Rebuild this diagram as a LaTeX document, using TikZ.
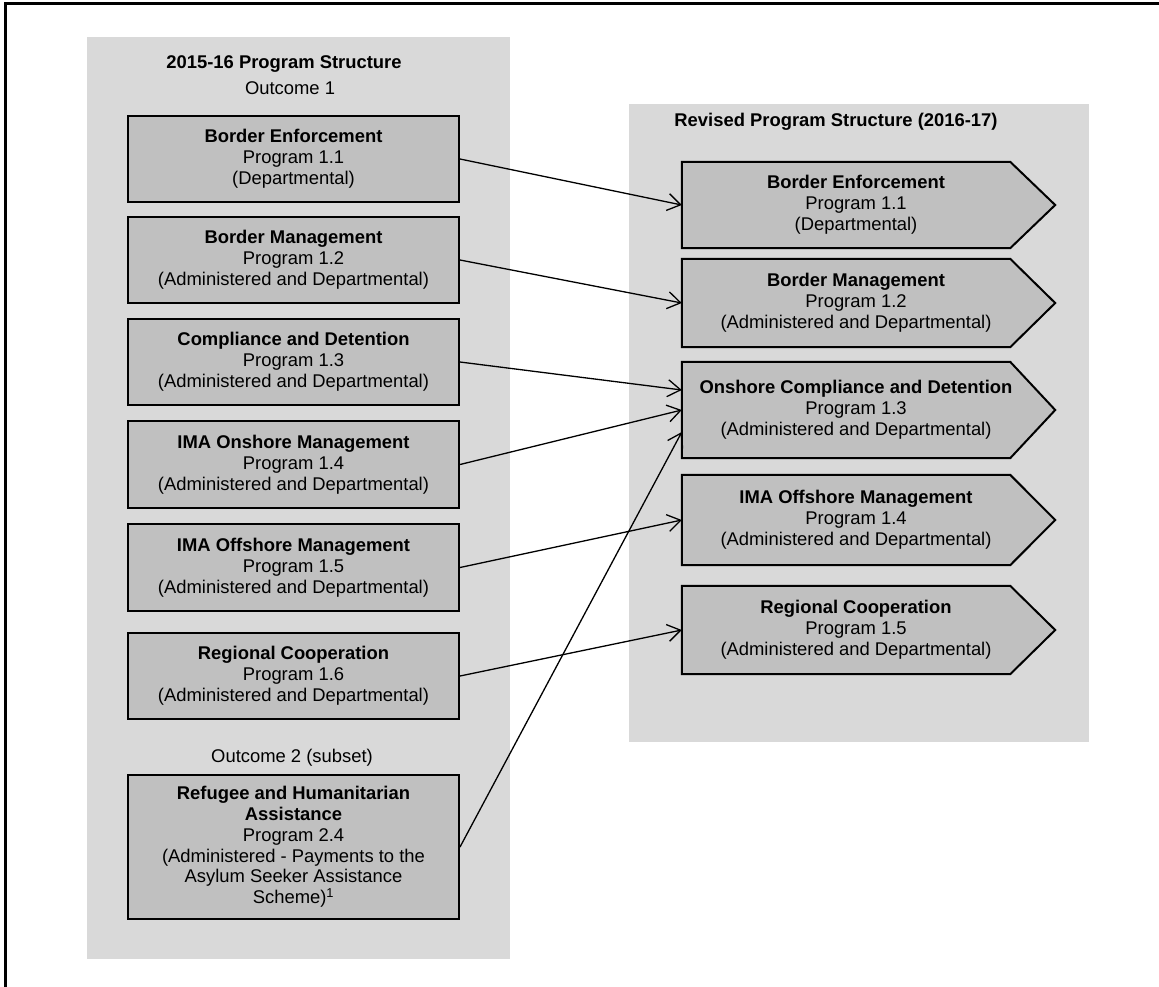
\documentclass[tikz,border=0pt]{standalone}
\usepackage{fontspec}
\setmainfont{Liberation Sans}
\usetikzlibrary{arrows.meta,backgrounds}

\definecolor{panelgrey}{HTML}{D9D9D9}
\definecolor{boxgrey}{HTML}{C0C0C0}

\tikzset{
  panel/.style={fill=panelgrey,draw=none},
  lbox/.style={draw,line width=2pt,fill=boxgrey,minimum width=331pt,align=center,inner sep=0pt},
  rbox/.style={minimum width=348pt,align=center,inner sep=0pt},
  rshape/.style={draw,line width=2pt,fill=boxgrey},
  arr/.style={line width=1.3pt,-{Straight Barb[length=13pt,width=17pt]}},
}

\begin{document}
\begin{tikzpicture}[x=1pt,y=-1pt,
    every node/.style={font=\fontsize{18.4}{20.8}\selectfont}]
  \useasboundingbox (0,0) rectangle (1159,986);
  % frame, top and left side only
  \draw[line width=3.5pt] (5.6,990) -- (5.6,3.7) -- (1165,3.7);

  \begin{scope}[on background layer]
    \fill[panel] (87,37) rectangle (510,959);
    \fill[panel] (629,104) rectangle (1089,742);
  \end{scope}

  % 2015-16 structure
  \node (old) at (284,64) {\textbf{2015-16 Program Structure}};
  \node (out1) at (290,88) {Outcome 1};
  \node[lbox,minimum height=86pt] (L1) at (293.5,159) {\textbf{Border Enforcement}\\Program 1.1\\(Departmental)};
  \node[lbox,minimum height=86pt] (L2) at (293.5,260) {\textbf{Border Management}\\Program 1.2\\(Administered and Departmental)};
  \node[lbox,minimum height=86pt] (L3) at (293.5,362) {\textbf{Compliance and Detention}\\Program 1.3\\(Administered and Departmental)};
  \node[lbox,minimum height=87pt] (L4) at (293.5,464.5) {\textbf{IMA Onshore Management}\\Program 1.4\\(Administered and Departmental)};
  \node[lbox,minimum height=87pt] (L5) at (293.5,567.5) {\textbf{IMA Offshore Management}\\Program 1.5\\(Administered and Departmental)};
  \node[lbox,minimum height=86pt] (L6) at (293.5,676) {\textbf{Regional Cooperation}\\Program 1.6\\(Administered and Departmental)};
  \node (out2) at (292,758) {Outcome 2 (subset)};
  \node[lbox,minimum height=144pt] (L7) at (293.5,847) {\textbf{Refugee and Humanitarian}\\\textbf{Assistance}\\Program 2.4\\(Administered - Payments to the\\Asylum Seeker Assistance\\Scheme)\textsuperscript{1}};

  % revised structure
  \node (new) at (836,122) {\textbf{Revised Program Structure (2016-17)}};
  \node[rbox,minimum height=86pt] (R1) at (856,205) {\textbf{Border Enforcement}\\Program 1.1\\(Departmental)};
  \node[rbox,minimum height=88pt] (R2) at (856,303) {\textbf{Border Management}\\Program 1.2\\(Administered and Departmental)};
  \node[rbox,minimum height=96pt] (R3) at (856,410) {\textbf{Onshore Compliance and Detention}\\Program 1.3\\(Administered and Departmental)};
  \node[rbox,minimum height=90pt] (R4) at (856,520) {\textbf{IMA Offshore Management}\\Program 1.4\\(Administered and Departmental)};
  \node[rbox,minimum height=88pt] (R5) at (856,630) {\textbf{Regional Cooperation}\\Program 1.5\\(Administered and Departmental)};

  \begin{scope}[on background layer]
    \foreach \r in {R1,R2,R3,R4,R5}
      \draw[rshape] (\r.north west) -- ([xshift=-20pt]\r.north east) -- ([xshift=25pt]\r.east)
        -- ([xshift=-20pt]\r.south east) -- (\r.south west) -- cycle;
  \end{scope}

  % mapping
  \draw[arr] (L1.east) -- (R1.west);
  \draw[arr] (L2.east) -- (R2.west);
  \draw[arr] (L3.east) -- ([yshift=20pt]R3.west);
  \draw[arr] (L4.east) -- (R3.west);
  \draw[arr] (L5.east) -- (R4.west);
  \draw[arr] (L6.east) -- (R5.west);
  \draw[arr] (L7.east) -- ([yshift=-22pt]R3.west);
\end{tikzpicture}
\end{document}
